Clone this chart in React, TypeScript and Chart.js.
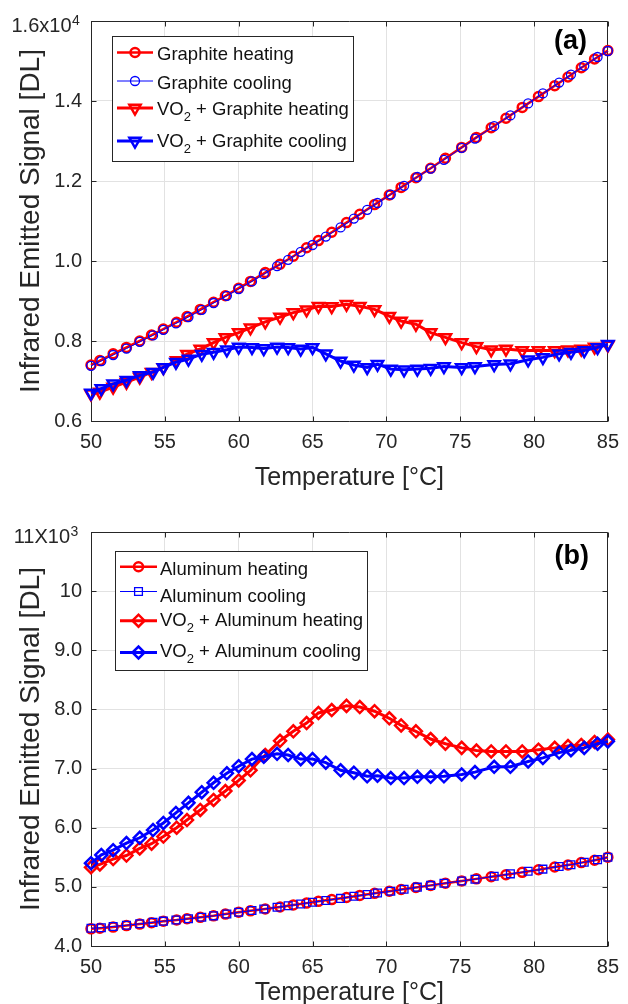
import React, { useEffect, useRef } from 'react';
import { Chart, registerables } from 'chart.js';

Chart.register(...registerables);
Chart.defaults.font.family = "'Liberation Sans', Arial, Helvetica, sans-serif";

// ---------------- DATA ----------------
const temperatureHeating = [
  50.0, 50.6, 51.5, 52.4, 53.3, 54.1, 54.9, 55.8, 56.5, 57.4, 58.3, 59.1, 60.0,
  60.8, 61.8, 62.8, 63.7, 64.6, 65.4, 66.3, 67.3, 68.2, 69.2, 70.2, 71.0, 72.0,
  73.0, 74.0, 75.1, 76.1, 77.1, 78.1, 79.2, 80.3, 81.4, 82.3, 83.2, 84.1, 85.0,
];
const temperatureCooling = [
  50.0, 50.7, 51.5, 52.4, 53.3, 54.2, 54.9, 55.75, 56.6, 57.5, 58.3, 59.2, 60.0,
  60.9, 61.7, 62.6, 63.35, 64.2, 65.0, 65.9, 66.9, 67.8, 68.7, 69.4, 70.3, 71.2,
  72.1, 73.0, 73.9, 75.1, 76.0, 77.3, 78.4, 79.6, 80.6, 81.7, 82.5, 83.4, 84.3, 85.0,
];

// Panel (a)
const graphiteHeating = [
  7400, 7510, 7680, 7840, 8000, 8150, 8300, 8470, 8610, 8790, 8970, 9130, 9320,
  9490, 9710, 9920, 10120, 10330, 10510, 10720, 10960, 11170, 11410, 11650, 11840, 12080,
  12320, 12570, 12840, 13090, 13330, 13570, 13840, 14110, 14380, 14600, 14830, 15050, 15260,
];
const graphiteCooling = [
  7380, 7500, 7650, 7810, 7980, 8140, 8280, 8440, 8600, 8780, 8950, 9130, 9300,
  9490, 9670, 9870, 10030, 10230, 10400, 10610, 10840, 11060, 11280, 11450, 11660, 11880,
  12100, 12310, 12530, 12830, 13060, 13370, 13640, 13940, 14190, 14460, 14660, 14880, 15100, 15250,
];
const vo2GraphiteHeating = [
  6680, 6725, 6850, 6970, 7100, 7220, 7340, 7510, 7670, 7800, 7960, 8090, 8210,
  8330, 8480, 8600, 8710, 8780, 8870, 8860, 8920, 8870, 8790, 8620, 8500, 8420,
  8210, 8090, 7960, 7860, 7780, 7800, 7760, 7760, 7760, 7780, 7800, 7850, 7900,
];
const vo2GraphiteCooling = [
  6700, 6810, 6930, 7020, 7140, 7220, 7340, 7470, 7550, 7670, 7720, 7780, 7850,
  7840, 7810, 7850, 7840, 7800, 7840, 7680, 7500, 7400, 7340, 7420, 7300, 7280,
  7300, 7320, 7360, 7340, 7360, 7410, 7430, 7530, 7590, 7680, 7720, 7760, 7840, 7920,
];

// Panel (b)
const aluminumHeating = [
  4290, 4300, 4320, 4345, 4370, 4395, 4420, 4440, 4460, 4485, 4510, 4540, 4570,
  4595, 4625, 4660, 4695, 4725, 4755, 4785, 4820, 4855, 4890, 4925, 4955, 4990,
  5025, 5060, 5100, 5135, 5170, 5205, 5245, 5290, 5335, 5370, 5410, 5450, 5500,
];
const aluminumCooling = [
  4300, 4310, 4330, 4350, 4375, 4400, 4420, 4440, 4460, 4485, 4510, 4540, 4570,
  4600, 4625, 4655, 4680, 4710, 4740, 4770, 4805, 4840, 4870, 4895, 4925, 4960,
  4995, 5025, 5060, 5100, 5130, 5180, 5220, 5265, 5300, 5345, 5375, 5415, 5460, 5500,
];
const vo2AluminumHeating = [
  5330, 5380, 5470, 5530, 5650, 5730, 5850, 6000, 6130, 6300, 6470, 6620, 6800,
  6970, 7230, 7470, 7630, 7770, 7940, 7990, 8060, 8040, 7970, 7850, 7730, 7630,
  7500, 7420, 7350, 7305, 7290, 7290, 7290, 7320, 7350, 7380, 7400, 7450, 7490,
];
const vo2AluminumCooling = [
  5400, 5540, 5620, 5740, 5830, 5960, 6080, 6250, 6420, 6600, 6760, 6920, 7040,
  7160, 7200, 7250, 7230, 7160, 7160, 7100, 6970, 6930, 6870, 6880, 6840, 6840,
  6860, 6860, 6870, 6900, 6940, 7030, 7030, 7120, 7180, 7270, 7310, 7350, 7420, 7460,
];

const legendLabelsA = ['Graphite heating', 'Graphite cooling', 'VO₂ + Graphite heating', 'VO₂ + Graphite cooling'];
const legendLabelsB = ['Aluminum heating', 'Aluminum cooling', 'VO₂ + Aluminum heating', 'VO₂ + Aluminum cooling'];

const xTicksTemperature = [50, 55, 60, 65, 70, 75, 80, 85];
const yTicksA = [6000, 8000, 10000, 12000, 14000, 16000];
const yTickLabelsA = ['0.6', '0.8', '1.0', '1.2', '1.4', ''];
const yTicksB = [4000, 5000, 6000, 7000, 8000, 9000, 10000, 11000];
const yTickLabelsB = ['4.0', '5.0', '6.0', '7.0', '8.0', '9.0', '10', ''];

// ---------------- STYLE ----------------
const RED = '#ff0000';
const BLUE = '#0000ff';
const AXIS = '#262626';
const GRID = '#e2e2e2';
const LEGEND_FONT = 18.5;

type SeriesStyle = {
  color: string;
  lineWidth: number;
  marker: string;
  radius: number;
  markerWidth: number;
  rotation: number;
};

function makeDataset(temps: number[], vals: number[], s: SeriesStyle, label: string, order: number) {
  return {
    label,
    data: temps.map((t, i) => ({ x: t, y: vals[i] })),
    borderColor: s.color,
    borderWidth: s.lineWidth,
    pointStyle: s.marker,
    pointRadius: s.radius,
    pointBorderWidth: s.markerWidth,
    pointBorderColor: s.color,
    pointBackgroundColor: 'rgba(0,0,0,0)',
    pointRotation: s.rotation,
    tension: 0,
    clip: false,
    order,
  };
}

function drawMarker(ctx: CanvasRenderingContext2D, style: string, x: number, y: number, r: number, rotation: number) {
  ctx.beginPath();
  if (style === 'circle') {
    ctx.arc(x, y, r, 0, Math.PI * 2);
  } else if (style === 'triangle') {
    let a = (rotation * Math.PI) / 180;
    for (let k = 0; k < 3; k++) {
      const px = x + Math.sin(a) * r;
      const py = y - Math.cos(a) * r;
      if (k === 0) ctx.moveTo(px, py);
      else ctx.lineTo(px, py);
      a += (2 * Math.PI) / 3;
    }
  } else if (style === 'rect') {
    const h = r / Math.SQRT2;
    ctx.rect(x - h, y - h, 2 * h, 2 * h);
  } else if (style === 'rectRot') {
    ctx.moveTo(x - r, y);
    ctx.lineTo(x, y - r);
    ctx.lineTo(x + r, y);
    ctx.lineTo(x, y + r);
  }
  ctx.closePath();
  ctx.stroke();
}

function drawRichLabel(ctx: CanvasRenderingContext2D, text: string, x: number, baseline: number, size: number) {
  const parts = text.split('₂');
  let cx = x;
  ctx.textAlign = 'left';
  ctx.textBaseline = 'alphabetic';
  parts.forEach((p, i) => {
    ctx.font = `${size}px 'Liberation Sans', Arial, sans-serif`;
    ctx.fillText(p, cx, baseline);
    cx += ctx.measureText(p).width;
    if (i < parts.length - 1) {
      const sub = Math.round(size * 0.68);
      ctx.font = `${sub}px 'Liberation Sans', Arial, sans-serif`;
      ctx.fillText('2', cx, baseline + 6);
      cx += ctx.measureText('2').width;
    }
  });
}

type PanelCfg = {
  temps: number[][];
  values: number[][];
  styles: SeriesStyle[];
  labels: string[];
  yTicks: number[];
  yTickLabels: string[];
  yMin: number;
  yMax: number;
  padTop: number;
  xHeight: number;
  xTitlePadBottom: number;
  legendBox: { x0: number; y0: number; x1: number; y1: number };
  legendLineX: [number, number];
  legendMarkerX: number;
  legendTextX: number;
  legendLineY: number[];
  legendBaseline: number[];
  panelLabel: string;
  panelLabelPos: { x: number; y: number };
  expMantissa: string;
  expPower: string;
  expPos: { x: number; y: number };
};

function Panel({ cfg }: { cfg: PanelCfg }) {
  const ref = useRef<HTMLCanvasElement | null>(null);
  useEffect(() => {
    if (!ref.current) return;
    const decor = {
      id: 'decor',
      beforeDatasetsDraw(chart: any) {
        const { ctx, chartArea: a, scales } = chart;
        ctx.save();
        ctx.strokeStyle = AXIS;
        ctx.lineWidth = 1;
        const L = Math.round(a.left) + 0.5;
        const R = Math.round(a.right) - 0.5;
        const T = Math.round(a.top) + 0.5;
        const B = Math.round(a.bottom) + 0.5;
        ctx.beginPath();
        ctx.moveTo(L, T);
        ctx.lineTo(R, T);
        ctx.lineTo(R, B);
        ctx.stroke();
        const tl = 5;
        ctx.beginPath();
        scales.x.ticks.forEach((t: any) => {
          const px = Math.round(scales.x.getPixelForValue(t.value)) + 0.5;
          ctx.moveTo(px, B);
          ctx.lineTo(px, B - tl);
          ctx.moveTo(px, T);
          ctx.lineTo(px, T + tl);
        });
        scales.y.ticks.forEach((t: any) => {
          const py = Math.round(scales.y.getPixelForValue(t.value)) + 0.5;
          ctx.moveTo(L, py);
          ctx.lineTo(L + tl, py);
          ctx.moveTo(R, py);
          ctx.lineTo(R - tl, py);
        });
        ctx.stroke();
        ctx.restore();
      },
      afterDraw(chart: any) {
        const ctx: CanvasRenderingContext2D = chart.ctx;
        ctx.save();
        // legend box
        const lb = cfg.legendBox;
        ctx.fillStyle = '#ffffff';
        ctx.fillRect(lb.x0, lb.y0, lb.x1 - lb.x0, lb.y1 - lb.y0);
        ctx.strokeStyle = AXIS;
        ctx.lineWidth = 1;
        ctx.strokeRect(lb.x0 + 0.5, lb.y0 + 0.5, lb.x1 - lb.x0, lb.y1 - lb.y0);
        cfg.labels.forEach((label, i) => {
          const s = cfg.styles[i];
          const y = cfg.legendLineY[i];
          ctx.strokeStyle = s.color;
          ctx.lineWidth = s.lineWidth;
          ctx.beginPath();
          ctx.moveTo(cfg.legendLineX[0], y);
          ctx.lineTo(cfg.legendLineX[1], y);
          ctx.stroke();
          ctx.lineWidth = s.markerWidth;
          drawMarker(ctx, s.marker, cfg.legendMarkerX, y, s.radius, s.rotation);
          ctx.fillStyle = '#111111';
          drawRichLabel(ctx, label, cfg.legendTextX, cfg.legendBaseline[i], LEGEND_FONT);
        });
        // panel label
        ctx.fillStyle = '#000000';
        ctx.font = "bold 27px 'Liberation Sans', Arial, sans-serif";
        ctx.textAlign = 'right';
        ctx.textBaseline = 'alphabetic';
        ctx.fillText(cfg.panelLabel, cfg.panelLabelPos.x, cfg.panelLabelPos.y);
        // exponent label
        ctx.fillStyle = AXIS;
        ctx.font = "20px 'Liberation Sans', Arial, sans-serif";
        ctx.textAlign = 'right';
        ctx.fillText(cfg.expMantissa, cfg.expPos.x, cfg.expPos.y);
        ctx.font = "14px 'Liberation Sans', Arial, sans-serif";
        ctx.textAlign = 'left';
        ctx.fillText(cfg.expPower, cfg.expPos.x + 0.5, cfg.expPos.y - 7);
        ctx.restore();
      },
    };

    const datasets = cfg.values.map((vals, i) =>
      makeDataset(cfg.temps[i], vals, cfg.styles[i], cfg.labels[i], cfg.values.length - i)
    );

    const chart = new Chart(ref.current, {
      type: 'line',
      data: { datasets },
      plugins: [decor],
      options: {
        responsive: false,
        animation: false,
        devicePixelRatio: 1,
        layout: { padding: { top: cfg.padTop, right: 11, left: 0, bottom: 0 } },
        plugins: { legend: { display: false }, tooltip: { enabled: false } },
        scales: {
          x: {
            type: 'linear',
            min: 50,
            max: 85,
            afterBuildTicks: (s: any) => {
              s.ticks = xTicksTemperature.map((v) => ({ value: v }));
            },
            ticks: {
              font: { size: 20 },
              color: AXIS,
              padding: 9,
              maxRotation: 0,
              callback: (v: any) => String(v),
            },
            grid: { color: GRID, drawTicks: false, lineWidth: 1 },
            border: { color: AXIS, width: 1 },
            title: {
              display: true,
              text: 'Temperature [°C]',
              font: { size: 25 },
              color: AXIS,
              padding: { top: 0, bottom: cfg.xTitlePadBottom },
            },
            afterFit: (s: any) => {
              s.height = cfg.xHeight;
            },
          },
          y: {
            type: 'linear',
            min: cfg.yMin,
            max: cfg.yMax,
            afterBuildTicks: (s: any) => {
              s.ticks = cfg.yTicks.map((v) => ({ value: v }));
            },
            ticks: {
              font: { size: 20 },
              color: AXIS,
              padding: 9,
              callback: (v: any) => {
                const idx = cfg.yTicks.indexOf(Number(v));
                return idx >= 0 ? cfg.yTickLabels[idx] : '';
              },
            },
            grid: { color: GRID, drawTicks: false, lineWidth: 1 },
            border: { color: AXIS, width: 1 },
            title: {
              display: true,
              text: 'Infrared Emitted Signal [DL]',
              font: { size: 28 },
              color: AXIS,
              padding: { top: 14, bottom: 0 },
            },
            afterFit: (s: any) => {
              s.width = 91;
            },
          },
        },
      } as any,
    });
    return () => chart.destroy();
  }, [cfg]);
  return <canvas ref={ref} width={628} height={502} style={{ display: 'block', width: 628, height: 502 }} />;
}

const stylesA: SeriesStyle[] = [
  { color: RED, lineWidth: 2.5, marker: 'circle', radius: 4.5, markerWidth: 2.5, rotation: 0 },
  { color: BLUE, lineWidth: 1, marker: 'circle', radius: 4.5, markerWidth: 1.3, rotation: 0 },
  { color: RED, lineWidth: 3, marker: 'triangle', radius: 6.5, markerWidth: 2.5, rotation: 180 },
  { color: BLUE, lineWidth: 3, marker: 'triangle', radius: 6.5, markerWidth: 2.5, rotation: 180 },
];
const stylesB: SeriesStyle[] = [
  { color: RED, lineWidth: 2.5, marker: 'circle', radius: 4.5, markerWidth: 2.5, rotation: 0 },
  { color: BLUE, lineWidth: 1, marker: 'rect', radius: 5.5, markerWidth: 1.3, rotation: 0 },
  { color: RED, lineWidth: 3, marker: 'rectRot', radius: 6, markerWidth: 2.5, rotation: 0 },
  { color: BLUE, lineWidth: 3, marker: 'rectRot', radius: 6, markerWidth: 2.5, rotation: 0 },
];

const cfgA: PanelCfg = {
  temps: [temperatureHeating, temperatureCooling, temperatureHeating, temperatureCooling],
  values: [graphiteHeating, graphiteCooling, vo2GraphiteHeating, vo2GraphiteCooling],
  styles: stylesA,
  labels: legendLabelsA,
  yTicks: yTicksA,
  yTickLabels: yTickLabelsA,
  yMin: 6000,
  yMax: 16000,
  padTop: 17,
  xHeight: 81,
  xTitlePadBottom: 9,
  legendBox: { x0: 112, y0: 36, x1: 353, y1: 161 },
  legendLineX: [117, 153],
  legendMarkerX: 135,
  legendTextX: 157,
  legendLineY: [52.5, 81, 108, 141],
  legendBaseline: [60, 88.5, 115, 147],
  panelLabel: '(a)',
  panelLabelPos: { x: 587, y: 49 },
  expMantissa: '1.6x10',
  expPower: '4',
  expPos: { x: 71.5, y: 31.5 },
};

const cfgB: PanelCfg = {
  temps: [temperatureHeating, temperatureCooling, temperatureHeating, temperatureCooling],
  values: [aluminumHeating, aluminumCooling, vo2AluminumHeating, vo2AluminumCooling],
  styles: stylesB,
  labels: legendLabelsB,
  yTicks: yTicksB,
  yTickLabels: yTickLabelsB,
  yMin: 4000,
  yMax: 11000,
  padTop: 30,
  xHeight: 58,
  xTitlePadBottom: -4,
  legendBox: { x0: 115, y0: 49, x1: 367, y1: 168 },
  legendLineX: [120, 157],
  legendMarkerX: 138.5,
  legendTextX: 160,
  legendLineY: [64.7, 89.5, 118.7, 150.5],
  legendBaseline: [73, 99.5, 124, 154.5],
  panelLabel: '(b)',
  panelLabelPos: { x: 589, y: 62 },
  expMantissa: '11X10',
  expPower: '3',
  expPos: { x: 70, y: 40.5 },
};

export default function App() {
  return (
    <div style={{ position: 'absolute', left: 0, top: 0, width: 628, height: 1004, background: '#ffffff' }}>
      <Panel cfg={cfgA} />
      <Panel cfg={cfgB} />
    </div>
  );
}
